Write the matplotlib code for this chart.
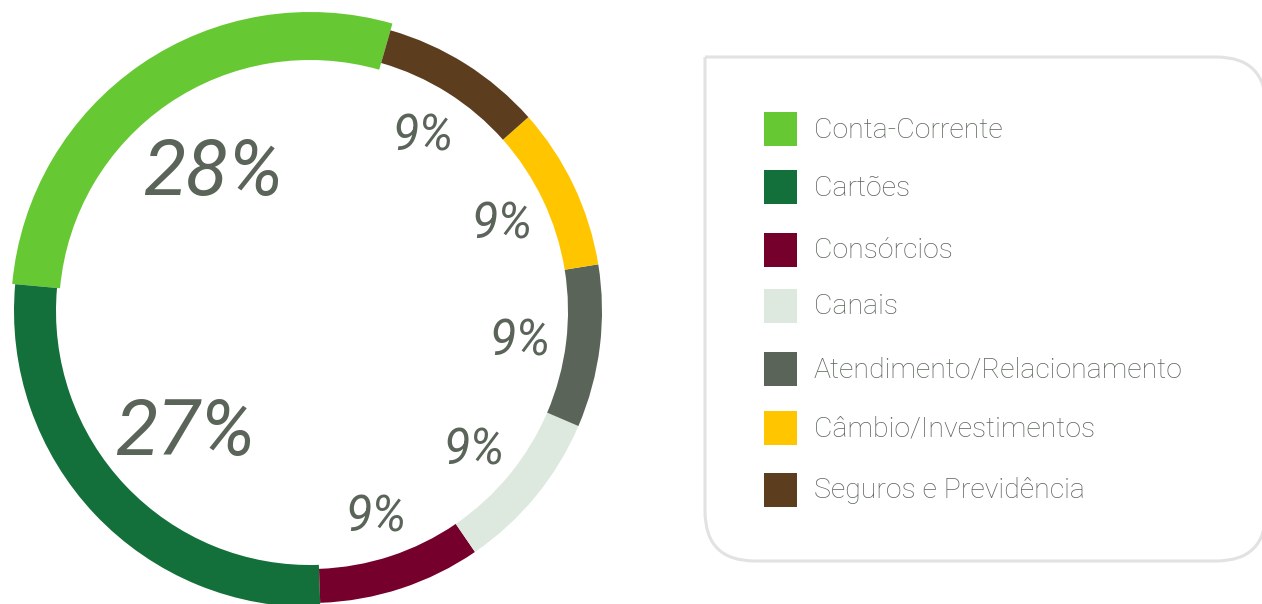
import numpy as np
import matplotlib
matplotlib.use("Agg")
import matplotlib.pyplot as plt
from matplotlib.path import Path
from matplotlib.patches import PathPatch, Rectangle

# dados
categorias = ["Conta-Corrente", "Cartões", "Consórcios", "Canais",
              "Atendimento/Relacionamento", "Câmbio/Investimentos",
              "Seguros e Previdência"]
valores = [28, 27, 9, 9, 9, 9, 9]
cores = ["#66c933", "#14703a", "#75002b", "#dde9df",
         "#5a6459", "#ffc600", "#5c3d1e"]
rotulos = ["28%", "27%", "9%", "9%", "9%", "9%", "9%"]

TXT = "#5a6459"
plt.rcParams["font.family"] = ["Roboto", "DejaVu Sans"]

fig = plt.figure(figsize=(12.62, 6.04), dpi=100)

# --- rosca ---
ax = fig.add_axes([0, 0, 620 / 1262, 1])
wedges, _ = ax.pie(valores, colors=cores, startangle=74, counterclock=True,
                   radius=1, wedgeprops=dict(width=0.2, linewidth=0))
r_mid = 275
espessuras = [48, 42, 34, 34, 34, 34, 34]
for w, e in zip(wedges, espessuras):
    w.set_radius(r_mid + e / 2)
    w.set_width(e)

for i, w in enumerate(wedges):
    ang = np.deg2rad((w.theta1 + w.theta2) / 2)
    big = valores[i] > 20
    rr = 172 if big else 212
    ax.text(rr * np.cos(ang), rr * np.sin(ang) - 5, rotulos[i],
            ha="center", va="center", color=TXT, style="italic",
            fontsize=56 if big else 35)

ax.set_xlim(-310, 310)
ax.set_ylim(-293, 311)
ax.set_aspect("equal")
ax.axis("off")

# --- legenda ---
lg = fig.add_axes([0, 0, 1, 1])
lg.set_xlim(0, 1262)
lg.set_ylim(604, 0)
lg.axis("off")

x0, y0, x1, y1, r = 705, 57, 1266, 561, 50
verts = [(x0, y0), (x1 - r, y0), (x1, y0), (x1, y0 + r),
         (x1, y1 - r), (x1, y1), (x1 - r, y1),
         (x0 + r, y1), (x0, y1), (x0, y1 - r), (x0, y0)]
codes = [Path.MOVETO, Path.LINETO, Path.CURVE3, Path.CURVE3,
         Path.LINETO, Path.CURVE3, Path.CURVE3,
         Path.LINETO, Path.CURVE3, Path.CURVE3, Path.LINETO]
lg.add_patch(PathPatch(Path(verts, codes), facecolor="white",
                       edgecolor="#e2e2e2", linewidth=2.2))

linhas_y = [129, 187, 250, 306, 369, 428, 490]
for nome, cor, yc in zip(categorias, cores, linhas_y):
    lg.add_patch(Rectangle((764, yc - 17), 33, 34, facecolor=cor,
                           edgecolor="none"))
    lg.text(814, yc + 1, nome, ha="left", va="center", color=TXT,
            fontsize=20.5, fontweight="light")

fig.savefig("out.png", dpi=100)
